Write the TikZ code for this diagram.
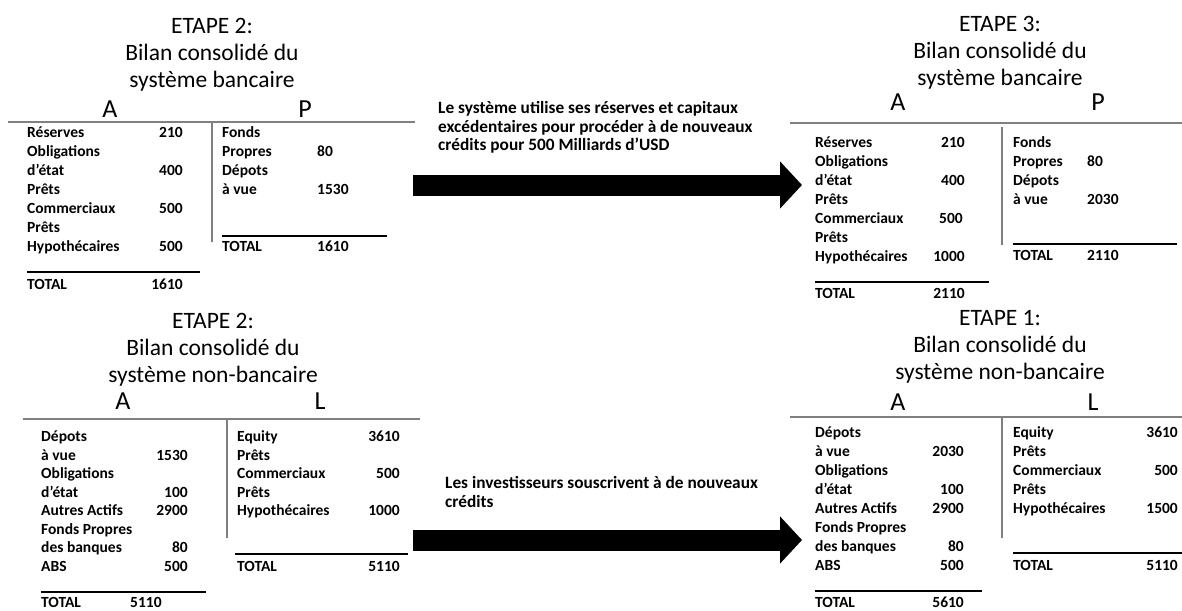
\documentclass[tikz,border=0pt]{standalone}
\usepackage{fontspec}
\setmainfont{Carlito}
\usetikzlibrary{arrows.meta}
\begin{document}
\begin{tikzpicture}[x=1pt,y=-1pt,
  title/.style={inner sep=0, anchor=north, align=center, font=\fontsize{23.5}{27}\selectfont},
  side/.style={inner sep=0, font=\fontsize{26}{28}\selectfont, text height=17pt, text depth=0pt},
  lab/.style={inner sep=0, anchor=west, font=\fontsize{15.5}{19}\selectfont\bfseries, text height=9pt, text depth=0pt},
  valr/.style={lab, anchor=east},
  vall/.style={lab, anchor=west},
  frame/.style={draw=black!50, line width=1.5pt},
  totline/.style={draw=black, line width=1.5pt},
  bigarrow/.style={draw=black, line width=21pt, -{Triangle[length=22pt,width=46pt]}},
  note/.style={inner sep=0, anchor=north west, align=left, font=\fontsize{17.3}{18.7}\selectfont\bfseries}
]
\useasboundingbox (0,0) rectangle (1182,610);

% ===== Top-left: ETAPE 2 bancaire =====
\node[title] (tlT) at (212,18) {ETAPE 2:\\Bilan consolidé du\\système bancaire};
\node[side] (tlA) at (110,109) {A};
\node[side] (tlP) at (305,109) {P};
\coordinate (tlh1) at (8,122); \coordinate (tlh2) at (415,122);
\coordinate (tlv1) at (212,122); \coordinate (tlv2) at (212,242);
\draw[frame] (tlh1) -- (tlh2);
\draw[frame] (tlv1) -- (tlv2);
\node[lab] (tl1) at (27,133) {Réserves};      \node[valr] (tl1v) at (183,133) {210};
\node[lab] (tl2) at (27,152) {Obligations};
\node[lab] (tl3) at (27,171) {d’état};        \node[valr] (tl3v) at (183,171) {400};
\node[lab] (tl4) at (27,190) {Prêts};
\node[lab] (tl5) at (27,209) {Commerciaux};   \node[valr] (tl5v) at (183,209) {500};
\node[lab] (tl6) at (27,228) {Prêts};
\node[lab] (tl7) at (27,247) {Hypothécaires}; \node[valr] (tl7v) at (183,247) {500};
\coordinate (tll1) at (27,272); \coordinate (tll2) at (200,272);
\draw[totline] (tll1) -- (tll2);
\node[lab] (tlTot) at (27,285) {TOTAL};       \node[valr] (tlTotv) at (183,285) {1610};
\node[lab] (tr1) at (222,133) {Fonds};
\node[lab] (tr2) at (222,152) {Propres};      \node[vall] (tr2v) at (317,152) {80};
\node[lab] (tr3) at (222,171) {Dépots};
\node[lab] (tr4) at (222,190) {à vue};        \node[vall] (tr4v) at (317,190) {1530};
\coordinate (trl1) at (222,236); \coordinate (trl2) at (387,236);
\draw[totline] (trl1) -- (trl2);
\node[lab] (trTot) at (222,247) {TOTAL};      \node[vall] (trTotv) at (317,247) {1610};

% ===== Top-right: ETAPE 3 bancaire =====
\node[title] (TRT) at (1000,16) {ETAPE 3:\\Bilan consolidé du\\système bancaire};
\node[side] (TRA) at (898,102) {A};
\node[side] (TRP) at (1098,102) {P};
\coordinate (TRh1) at (790,123); \coordinate (TRh2) at (1182,123);
\coordinate (TRv1) at (1002,127); \coordinate (TRv2) at (1002,245);
\draw[frame] (TRh1) -- (TRh2);
\draw[frame] (TRv1) -- (TRv2);
\node[lab] (TL1) at (815,143) {Réserves};      \node[valr] (TL1v) at (965,143) {210};
\node[lab] (TL2) at (815,162) {Obligations};
\node[lab] (TL3) at (815,181) {d’état};        \node[valr] (TL3v) at (965,181) {400};
\node[lab] (TL4) at (815,200) {Prêts};
\node[lab] (TL5) at (815,219) {Commerciaux};   \node[valr] (TL5v) at (963,219) {500};
\node[lab] (TL6) at (815,238) {Prêts};
\node[lab] (TL7) at (815,257) {Hypothécaires}; \node[valr] (TL7v) at (965,257) {1000};
\coordinate (TLl1) at (815,282); \coordinate (TLl2) at (989,282);
\draw[totline] (TLl1) -- (TLl2);
\node[lab] (TLTot) at (815,294) {TOTAL};       \node[valr] (TLTotv) at (965,294) {2110};
\node[lab] (TR1) at (1013,143) {Fonds};
\node[lab] (TR2) at (1013,162) {Propres};      \node[vall] (TR2v) at (1087,162) {80};
\node[lab] (TR3) at (1013,181) {Dépots};
\node[lab] (TR4) at (1013,200) {à vue};        \node[vall] (TR4v) at (1087,200) {2030};
\coordinate (TRl1) at (1013,244); \coordinate (TRl2) at (1177,244);
\draw[totline] (TRl1) -- (TRl2);
\node[lab] (TRTot) at (1013,256) {TOTAL};      \node[vall] (TRTotv) at (1087,256) {2110};

% ===== Bottom-left: ETAPE 2 non-bancaire =====
\node[title] (blT) at (213,313) {ETAPE 2:\\Bilan consolidé du\\système non-bancaire};
\node[side] (blA) at (123,401) {A};
\node[side] (blL) at (320,401) {L};
\coordinate (blh1) at (23,419); \coordinate (blh2) at (420,419);
\coordinate (blv1) at (227,419); \coordinate (blv2) at (227,538);
\draw[frame] (blh1) -- (blh2);
\draw[frame] (blv1) -- (blv2);
\node[lab] (bl1) at (41,437) {Dépots};
\node[lab] (bl2) at (41,455.5) {à vue};          \node[valr] (bl2v) at (188,455.5) {1530};
\node[lab] (bl3) at (41,474) {Obligations};
\node[lab] (bl4) at (41,492.5) {d’état};         \node[valr] (bl4v) at (188,492.5) {100};
\node[lab] (bl5) at (41,511) {Autres Actifs};    \node[valr] (bl5v) at (188,511) {2900};
\node[lab] (bl6) at (41,529.5) {Fonds Propres};
\node[lab] (bl7) at (41,548) {des banques};      \node[valr] (bl7v) at (188,548) {80};
\node[lab] (bl8) at (41,566.5) {ABS};            \node[valr] (bl8v) at (188,566.5) {500};
\coordinate (bll1) at (41,592); \coordinate (bll2) at (206,592);
\draw[totline] (bll1) -- (bll2);
\node[lab] (blTot) at (41,603) {TOTAL};          \node[vall] (blTotv) at (130,603) {5110};
\node[lab] (br1) at (237,437) {Equity};          \node[valr] (br1v) at (400,437) {3610};
\node[lab] (br2) at (237,455.5) {Prêts};
\node[lab] (br3) at (237,474) {Commerciaux};     \node[valr] (br3v) at (400,474) {500};
\node[lab] (br4) at (237,492.5) {Prêts};
\node[lab] (br5) at (237,511) {Hypothécaires};   \node[valr] (br5v) at (400,511) {1000};
\coordinate (brl1) at (235,554); \coordinate (brl2) at (408,554);
\draw[totline] (brl1) -- (brl2);
\node[lab] (brTot) at (237,567) {TOTAL};         \node[valr] (brTotv) at (400,567) {5110};

% ===== Bottom-right: ETAPE 1 non-bancaire =====
\node[title] (BRT) at (1000,310) {ETAPE 1:\\Bilan consolidé du\\système non-bancaire};
\node[side] (BRA) at (898,402) {A};
\node[side] (BRL) at (1093,402) {L};
\coordinate (BRh1) at (790,417); \coordinate (BRh2) at (1182,417);
\coordinate (BRv1) at (1002,417); \coordinate (BRv2) at (1002,538);
\draw[frame] (BRh1) -- (BRh2);
\draw[frame] (BRv1) -- (BRv2);
\node[lab] (BL1) at (815,433) {Dépots};
\node[lab] (BL2) at (815,452) {à vue};          \node[valr] (BL2v) at (964,452) {2030};
\node[lab] (BL3) at (815,471) {Obligations};
\node[lab] (BL4) at (815,490) {d’état};         \node[valr] (BL4v) at (964,490) {100};
\node[lab] (BL5) at (815,509) {Autres Actifs};  \node[valr] (BL5v) at (964,509) {2900};
\node[lab] (BL6) at (815,528) {Fonds Propres};
\node[lab] (BL7) at (815,547) {des banques};    \node[valr] (BL7v) at (964,547) {80};
\node[lab] (BL8) at (815,566) {ABS};            \node[valr] (BL8v) at (964,566) {500};
\coordinate (BLl1) at (815,591); \coordinate (BLl2) at (982,591);
\draw[totline] (BLl1) -- (BLl2);
\node[lab] (BLTot) at (815,603) {TOTAL};        \node[valr] (BLTotv) at (964,603) {5610};
\node[lab] (BR1) at (1013,433) {Equity};        \node[valr] (BR1v) at (1178,433) {3610};
\node[lab] (BR2) at (1013,452) {Prêts};
\node[lab] (BR3) at (1013,471) {Commerciaux};   \node[valr] (BR3v) at (1178,471) {500};
\node[lab] (BR4) at (1013,490) {Prêts};
\node[lab] (BR5) at (1013,509) {Hypothécaires}; \node[valr] (BR5v) at (1178,509) {1500};
\coordinate (BRl1) at (1013,553); \coordinate (BRl2) at (1182,553);
\draw[totline] (BRl1) -- (BRl2);
\node[lab] (BRTot) at (1013,566) {TOTAL};       \node[valr] (BRTotv) at (1178,566) {5110};

% ===== Arrows =====
\node[note] (n1) at (438,101) {Le système utilise ses réserves et capitaux\\excédentaires pour procéder à de nouveaux\\crédits pour 500 Milliards d’USD};
\coordinate (a1s) at (413,185); \coordinate (a1e) at (802,185);
\draw[bigarrow] (a1s) -- (a1e);
\node[note] (n2) at (445,476) {Les investisseurs souscrivent à de nouveaux\\crédits};
\coordinate (a2s) at (413,540); \coordinate (a2e) at (802,540);
\draw[bigarrow] (a2s) -- (a2e);
\end{tikzpicture}
\end{document}
